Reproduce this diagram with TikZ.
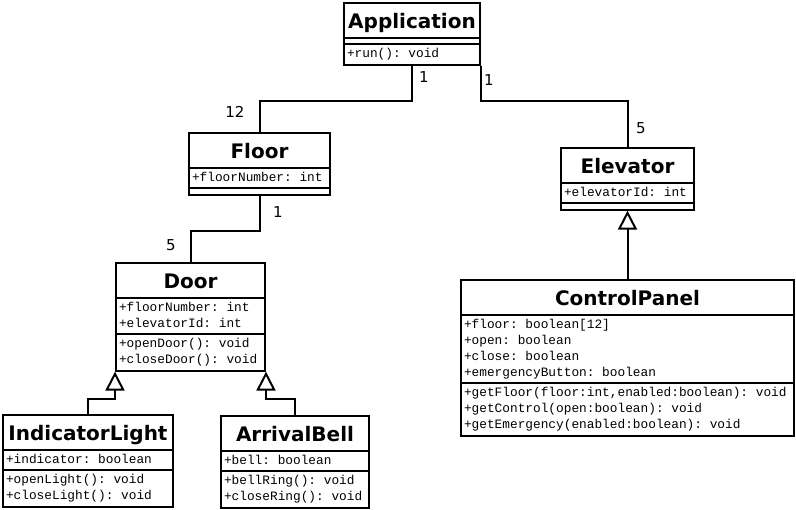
\documentclass[tikz,border=0pt]{standalone}
\usepackage{fontspec}
\setmainfont{DejaVu Sans}
\setmonofont{Liberation Mono}
\usepackage{tikz}
\usetikzlibrary{arrows.meta, shapes.multipart, positioning}
\newcommand{\cname}[1]{\rule[-8pt]{0pt}{31pt}{\rmfamily\fontsize{20}{24}\selectfont\bfseries #1}}
\newcommand{\members}[1]{\begin{tabular}{@{}l@{}}#1\end{tabular}}
\newcommand{\nomembers}{\rule{0pt}{2pt}}
\tikzset{
    umlclass/.style={draw, line width=2pt, anchor=north west,
        rectangle split, rectangle split parts=3,
        rectangle split part align={center,left,left},
        inner xsep=3pt, inner ysep=1.1pt,
        font=\fontsize{12.8}{16}\selectfont\ttfamily},
    assoc/.style={line width=2pt},
    inherit/.style={line width=2pt, -{Triangle[open, length=19pt, width=19pt]}},
    mult/.style={font=\fontsize{15}{16}\selectfont, inner sep=0pt}
}

\begin{document}
\begin{tikzpicture}[x=1pt, y=-1pt]
                        \useasboundingbox (0,0) rectangle (796,510);

                        \node[umlclass, minimum width=136pt] (app) at (343,2)
                        {\cname{Application}\nodepart{two}\nomembers\nodepart{three}\members{+run(): void}};
                        \node[umlclass, minimum width=141pt] (floor) at (188,132)
                        {\cname{Floor}\nodepart{two}\members{+floorNumber: int}\nodepart{three}\nomembers};
                        \node[umlclass, minimum width=133pt] (elev) at (560,147)
                        {\cname{Elevator}\nodepart{two}\members{+elevatorId: int}\nodepart{three}\nomembers};
                        \node[umlclass, minimum width=149pt] (door) at (115,262)
                        {\cname{Door}\nodepart{two}\members{+floorNumber: int\\+elevatorId: int}\nodepart{three}\members{+openDoor(): void\\+closeDoor(): void}};
                        \node[umlclass, minimum width=333pt] (cp) at (460,279)
                        {\cname{ControlPanel}\nodepart{two}\members{+floor: boolean[12]\\+open: boolean\\+close: boolean\\+emergencyButton: boolean}\nodepart{three}\members{+getFloor(floor:int,enabled:boolean): void\\+getControl(open:boolean): void\\+getEmergency(enabled:boolean): void}};
                        \node[umlclass, minimum width=170pt] (il) at (2,414)
                        {\cname{IndicatorLight}\nodepart{two}\members{+indicator: boolean}\nodepart{three}\members{+openLight(): void\\+closeLight(): void}};
                        \node[umlclass, minimum width=148pt] (ab) at (220,415)
                        {\cname{ArrivalBell}\nodepart{two}\members{+bell: boolean}\nodepart{three}\members{+bellRing(): void\\+closeRing(): void}};

                        \node[mult] (mAppFloor) at (424,77) {1};
                        \node[mult] (mAppElev) at (489,80) {1};
                        \node[mult] (mFloorApp) at (235,112) {12};
                        \node[mult] (mElevApp) at (641,128) {5};
                        \node[mult] (mFloorDoor) at (278,212) {1};
                        \node[mult] (mDoorFloor) at (171,245) {5};

                        \draw[assoc] (app.south) -- ++(0,35) -| (floor.north);
                        \draw[assoc] (app.south east) -- ++(0,35) -| (elev.north);
                        \draw[assoc] (floor.south) -- ++(0,35) -| (door.north);
                        \draw[inherit] (cp.north) -- (elev.south);
                        \draw[inherit] (il.north) -- ++(0,-15) -| (door.south west);
                        \draw[inherit] (ab.north) -- ++(0,-16) -| (door.south east);
\end{tikzpicture}
\end{document}
